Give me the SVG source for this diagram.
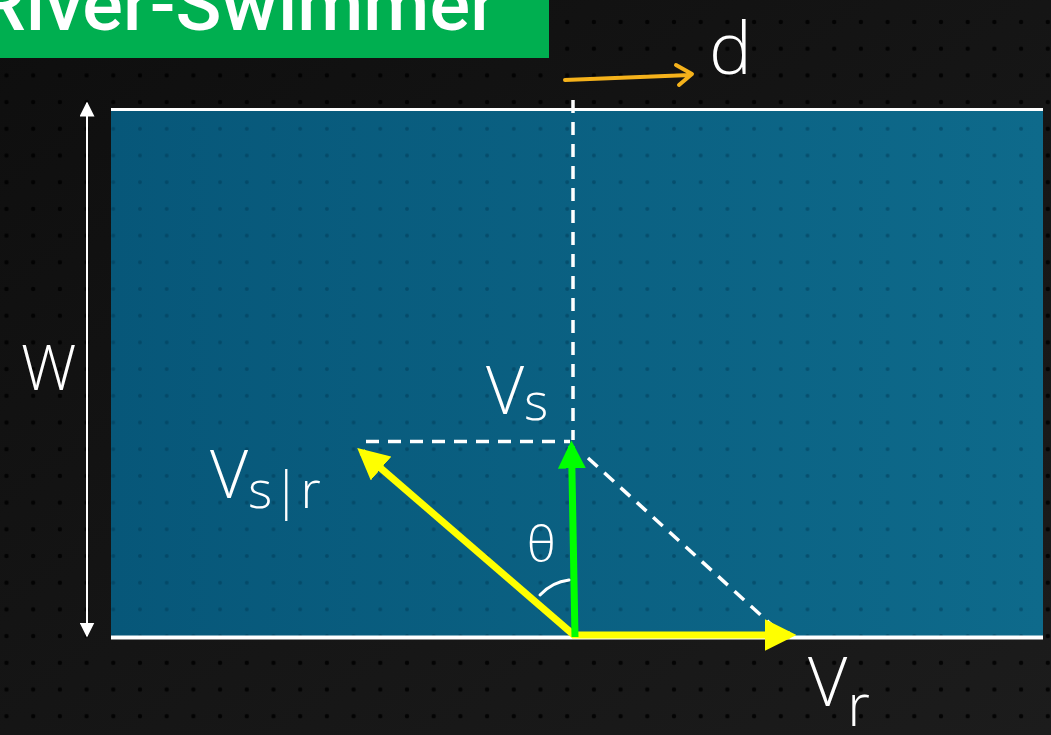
<svg xmlns="http://www.w3.org/2000/svg" width="1051" height="735" viewBox="0 0 1051 735">
<defs>
<linearGradient id="bg" x1="0" y1="0" x2="1" y2="1">
<stop offset="0" stop-color="#0e0e0e"/>
<stop offset="1" stop-color="#1c1c1c"/>
</linearGradient>
<linearGradient id="water" x1="0" y1="0" x2="1" y2="0">
<stop offset="0" stop-color="#075779"/>
<stop offset="1" stop-color="#0e6a8b"/>
</linearGradient>
<pattern id="dots" x="6.5" y="22" width="26.7" height="26.7" patternUnits="userSpaceOnUse">
<circle cx="0" cy="0" r="2.2" fill="#000" fill-opacity="0.85"/>
<circle cx="26.7" cy="0" r="2.2" fill="#000" fill-opacity="0.85"/>
<circle cx="0" cy="26.7" r="2.2" fill="#000" fill-opacity="0.85"/>
<circle cx="26.7" cy="26.7" r="2.2" fill="#000" fill-opacity="0.85"/>
</pattern>
<pattern id="dotsW" x="6.5" y="22" width="26.7" height="26.7" patternUnits="userSpaceOnUse">
<circle cx="0" cy="0" r="2" fill="#003a55" fill-opacity="0.5"/>
<circle cx="26.7" cy="0" r="2" fill="#003a55" fill-opacity="0.5"/>
<circle cx="0" cy="26.7" r="2" fill="#003a55" fill-opacity="0.5"/>
<circle cx="26.7" cy="26.7" r="2" fill="#003a55" fill-opacity="0.5"/>
</pattern>
<marker id="whiteHead" viewBox="0 0 10 10" refX="9" refY="5" markerWidth="15" markerHeight="15" markerUnits="userSpaceOnUse" orient="auto-start-reverse">
<path d="M0,0 L10,5 L0,10 z" fill="#fff"/>
</marker>
<marker id="yellowHead" viewBox="0 0 10 10" refX="8" refY="5" markerWidth="4.5" markerHeight="4.5" orient="auto">
<path d="M0,0 L10,5 L0,10 z" fill="#ffff00"/>
</marker>
<marker id="greenHead" viewBox="0 0 10 10" refX="8" refY="5" markerWidth="4" markerHeight="4" orient="auto">
<path d="M0,0 L10,5 L0,10 z" fill="#00ff00"/>
</marker>
<style>
.hand{font-family:"Open Sans","DejaVu Sans",sans-serif;font-weight:300;fill:#fff}
.dash{stroke:#fff;stroke-width:3.5;stroke-dasharray:13 9;fill:none}
</style>
</defs>

<rect width="1051" height="735" fill="url(#bg)"/>
<rect width="1051" height="735" fill="url(#dots)"/>

<g id="title">
<rect x="0" y="0" width="549" height="58" fill="#00af50"/>
<text x="-22" y="30" font-family="Roboto,'Liberation Sans',sans-serif" font-weight="500" font-size="74" fill="#fff" textLength="519" lengthAdjust="spacingAndGlyphs">River-Swimmer</text>
</g>

<g id="river">
<rect x="111" y="110" width="932" height="527" fill="url(#water)"/>
<rect x="111" y="110" width="932" height="527" fill="url(#dotsW)"/>
<line x1="111" y1="109.5" x2="1043" y2="109.5" stroke="#fff" stroke-width="3"/>
<line x1="111" y1="637.5" x2="1043" y2="637.5" stroke="#fff" stroke-width="4"/>
</g>

<g id="connectors">
<line id="width-arrow" x1="87" y1="103" x2="87" y2="636" stroke="#fff" stroke-width="2" marker-start="url(#whiteHead)" marker-end="url(#whiteHead)"/>
<line class="dash" x1="573" y1="100" x2="573" y2="440"/>
<line class="dash" x1="366" y1="441.5" x2="570" y2="441.5"/>
<line class="dash" x1="588" y1="458" x2="786" y2="638"/>
<path id="d-arrow" d="M565,80 L690,75 M676,65 L692,74 L679,85" stroke="#f5b21b" stroke-width="4" fill="none" stroke-linecap="round" stroke-linejoin="round"/>
<line id="vsr-arrow" x1="575" y1="636" x2="362" y2="452" stroke="#ffff00" stroke-width="7" marker-end="url(#yellowHead)"/>
<line id="vr-arrow" x1="573" y1="635" x2="790" y2="635" stroke="#ffff00" stroke-width="7" marker-end="url(#yellowHead)"/>
<line id="vs-arrow" x1="575" y1="637" x2="571.5" y2="446" stroke="#00ff00" stroke-width="7" marker-end="url(#greenHead)"/>
<path id="theta-arc" d="M540,595 Q552,582 569,580" stroke="#fff" stroke-width="3" fill="none" stroke-linecap="round"/>
</g>

<g id="labels">
<text id="label-d" class="hand" x="709" y="74" font-size="72">d</text>
<text id="label-w" class="hand" x="21" y="390" font-size="62">W</text>
<text id="label-vs" class="hand" x="486" y="414" font-size="66">V<tspan font-size="52" dy="6">s</tspan></text>
<text id="label-vsr" class="hand" x="210" y="498" font-size="66">V<tspan font-size="52" dy="10">s|r</tspan></text>
<text id="label-theta" class="hand" x="527" y="562" font-size="50">θ</text>
<text id="label-vr" class="hand" x="808" y="706" font-size="68">V<tspan font-size="58" dy="20">r</tspan></text>
</g>
</svg>
